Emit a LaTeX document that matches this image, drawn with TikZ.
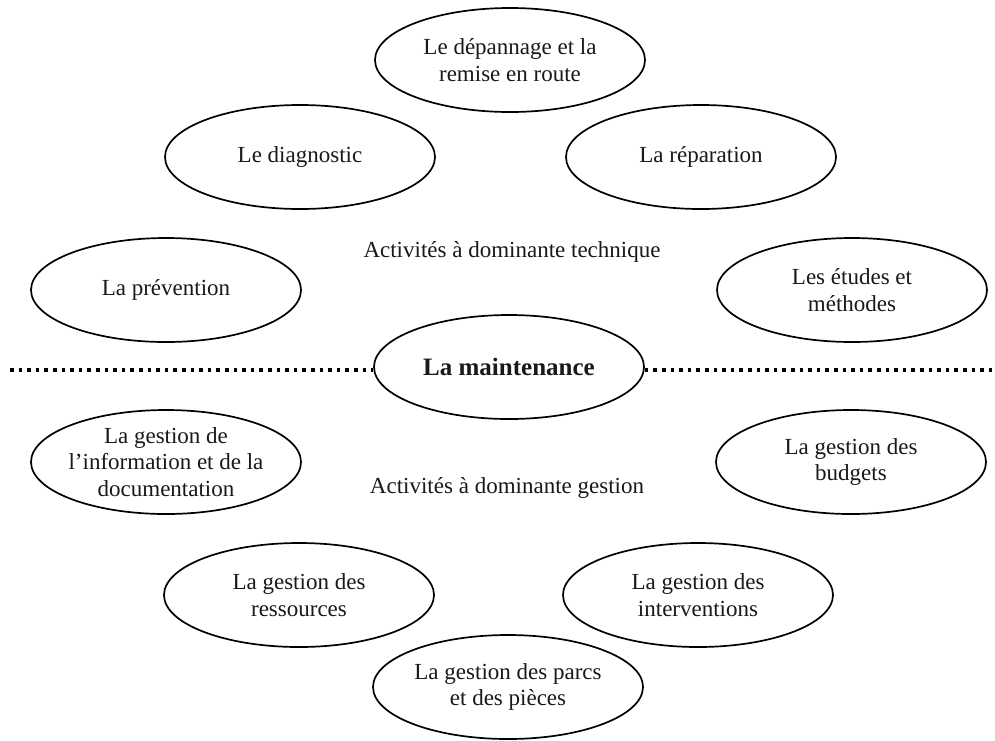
\documentclass[tikz,border=0pt]{standalone}
\usepackage{fontspec}
\setmainfont{Liberation Serif}
\usetikzlibrary{shapes.geometric}
\begin{document}
\begin{tikzpicture}[x=1pt,y=-1pt,
  ell/.style={draw=black, ellipse, line width=1.7pt, minimum width=270pt, minimum height=104pt, inner sep=0pt},
  txt/.style={align=center, text=black!90, font=\fontsize{23}{26.5}\selectfont},
  lbl/.style={txt},
  dotline/.style={line width=3.6pt, dash pattern=on 3.6pt off 5pt, black}]
\useasboundingbox (0,0) rectangle (995,740);
\fill[white] (0,0) rectangle (995,740);

\node[ell, label={[txt]center:{Le dépannage et la\\remise en route}}] (dep) at (510,60) {};
\node[ell, label={[txt]center:{Le diagnostic}}] (diag) at (300,157) {};
\node[ell, label={[txt]center:{La réparation}}] (rep) at (701,157) {};
\node[ell, label={[txt]center:{La prévention}}] (prev) at (166,290) {};
\node[ell, label={[txt]center:{Les études et\\méthodes}}] (etu) at (852,290) {};
\node[lbl] (tech) at (512,252) {Activités à dominante technique};

\node[ell, label={[txt, font=\fontsize{25}{30}\selectfont\bfseries]center:{La maintenance}}] (maint) at (509,367) {};
\coordinate (L) at (10,370);
\coordinate (R) at (992,370);
\draw[dotline] (L) -- (L -| maint.west);
\draw[dotline] (R -| maint.east) -- (R);

\node[ell, label={[txt]center:{La gestion de\\l’information et de la\\documentation}}] (info) at (166,462) {};
\node[ell, label={[txt]center:{La gestion des\\budgets}}] (budg) at (851,462) {};
\node[lbl] (gest) at (507,488) {Activités à dominante gestion};
\node[ell, label={[txt]center:{La gestion des\\ressources}}] (res) at (299,595) {};
\node[ell, label={[txt]center:{La gestion des\\interventions}}] (int) at (698,595) {};
\node[ell, label={[txt]center:{La gestion des parcs\\et des pièces}}] (parc) at (508,687) {};
\end{tikzpicture}
\end{document}
